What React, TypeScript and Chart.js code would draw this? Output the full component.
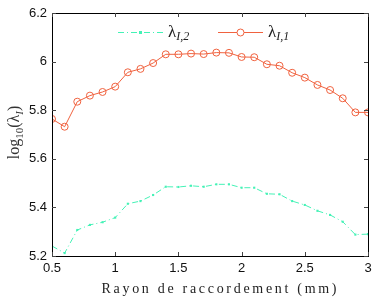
import React, { useEffect, useRef } from "react";
import { Chart, registerables } from "chart.js";

Chart.register(...registerables);

const radii = [0.5, 0.6, 0.7, 0.8, 0.9, 1.0, 1.1, 1.2, 1.3, 1.4, 1.5, 1.6, 1.7, 1.8, 1.9, 2.0, 2.1, 2.2, 2.3, 2.4, 2.5, 2.6, 2.7, 2.8, 2.9, 3.0];
const lambdaI1 = [5.764, 5.732, 5.835, 5.86, 5.875, 5.897, 5.956, 5.97, 5.994, 6.03, 6.03, 6.033, 6.031, 6.037, 6.036, 6.019, 6.018, 5.989, 5.983, 5.954, 5.934, 5.904, 5.883, 5.849, 5.791, 5.791];
const lambdaI2 = [5.241, 5.212, 5.307, 5.328, 5.339, 5.358, 5.415, 5.426, 5.451, 5.485, 5.484, 5.489, 5.485, 5.495, 5.495, 5.481, 5.481, 5.456, 5.454, 5.426, 5.41, 5.386, 5.369, 5.341, 5.288, 5.29];
const xTicks = [0.5, 1, 1.5, 2, 2.5, 3];
const yTicks = [5.2, 5.4, 5.6, 5.8, 6, 6.2];
const xTitle = "Rayon de raccordement (mm)";
const legendLabels = [
  { main: "λ", sub: "I,2" },
  { main: "λ", sub: "I,1" },
];

const RED = "#f0623f";
const GREEN = "#44f2b6";
const SERIF = "'Liberation Serif', 'DejaVu Serif', serif";
const SANS = "'Liberation Sans', Arial, sans-serif";

type Seg = { text: string; font: string; dy: number };

function drawSegs(ctx: CanvasRenderingContext2D, segs: Seg[], x: number, y: number, align: "left" | "center") {
  let total = 0;
  const widths = segs.map((s) => {
    ctx.font = s.font;
    const w = ctx.measureText(s.text).width;
    total += w;
    return w;
  });
  let cx = align === "center" ? x - total / 2 : x;
  segs.forEach((s, i) => {
    ctx.font = s.font;
    ctx.fillText(s.text, cx, y + s.dy);
    cx += widths[i];
  });
}

const decorPlugin = {
  id: "decor",
  afterDraw(chart: any) {
    const ctx: CanvasRenderingContext2D = chart.ctx;
    const { left, right, top, bottom } = chart.chartArea;
    const xs = chart.scales.x;
    const ys = chart.scales.y;
    ctx.save();
    // frame
    ctx.strokeStyle = "#000";
    ctx.lineWidth = 1;
    ctx.strokeRect(Math.round(left) + 0.5, Math.round(top) + 0.5, Math.round(right - left), Math.round(bottom - top));
    // inward ticks
    ctx.strokeStyle = "#444";
    const tl = 4;
    ctx.beginPath();
    xTicks.forEach((v) => {
      const px = Math.round(xs.getPixelForValue(v)) + 0.5;
      ctx.moveTo(px, bottom);
      ctx.lineTo(px, bottom - tl);
      ctx.moveTo(px, top);
      ctx.lineTo(px, top + tl);
    });
    yTicks.forEach((v) => {
      const py = Math.round(ys.getPixelForValue(v)) + 0.5;
      ctx.moveTo(left, py);
      ctx.lineTo(left + tl, py);
      ctx.moveTo(right, py);
      ctx.lineTo(right - tl, py);
    });
    ctx.stroke();

    ctx.fillStyle = "#222";
    ctx.textBaseline = "alphabetic";
    // x title
    ctx.font = `14px ${SERIF}`;
    const natural = ctx.measureText(xTitle).width;
    const target = 235;
    const ls = (target - natural) / (xTitle.length - 1);
    (ctx as any).letterSpacing = `${ls}px`;
    ctx.textAlign = "left";
    ctx.fillText(xTitle, 219 - target / 2, 293);
    (ctx as any).letterSpacing = "0px";

    // y title
    ctx.save();
    ctx.translate(19, (top + bottom) / 2 - 2);
    ctx.rotate(-Math.PI / 2);
    ctx.fillStyle = "#333";
    drawSegs(
      ctx,
      [
        { text: "log", font: `16px ${SERIF}`, dy: 0 },
        { text: "10", font: `11px ${SERIF}`, dy: 4 },
        { text: "(λ", font: `16px ${SERIF}`, dy: 0 },
        { text: "I", font: `italic 11px ${SERIF}`, dy: 4 },
        { text: ")", font: `16px ${SERIF}`, dy: 0 },
      ],
      0,
      0,
      "center"
    );
    ctx.restore();

    // legend
    const ly = 32.5;
    ctx.strokeStyle = GREEN;
    ctx.lineWidth = 1;
    ctx.setLineDash([6, 3, 1, 3]);
    ctx.beginPath();
    ctx.moveTo(118, ly);
    ctx.lineTo(163, ly);
    ctx.stroke();
    ctx.setLineDash([]);
    ctx.fillStyle = GREEN;
    ctx.fillRect(139, ly - 1.5, 3, 3);
    ctx.strokeStyle = RED;
    ctx.beginPath();
    ctx.moveTo(218, ly);
    ctx.lineTo(263, ly);
    ctx.stroke();
    ctx.fillStyle = "#fff";
    ctx.beginPath();
    ctx.arc(240.5, ly, 3.5, 0, Math.PI * 2);
    ctx.fill();
    ctx.stroke();

    ctx.fillStyle = "#222";
    const lx = [168, 268];
    legendLabels.forEach((l, i) => {
      drawSegs(
        ctx,
        [
          { text: l.main, font: `17px ${SERIF}`, dy: 0 },
          { text: l.sub, font: `italic 12px ${SERIF}`, dy: 3 },
        ],
        lx[i],
        37,
        "left"
      );
    });
    ctx.restore();
  },
};

export default function App() {
  const ref = useRef<HTMLCanvasElement>(null);
  useEffect(() => {
    document.body.style.margin = "0";
    const canvas = ref.current!;
    const chart = new Chart(canvas, {
      type: "line",
      data: {
        labels: radii,
        datasets: [
          {
            label: "λI,2",
            data: radii.map((x, i) => ({ x, y: lambdaI2[i] })),
            borderColor: GREEN,
            backgroundColor: GREEN,
            borderWidth: 1,
            borderDash: [6, 3, 1, 3],
            pointRadius: 1.5,
            pointStyle: "rect",
            pointBorderWidth: 0,
            pointBackgroundColor: GREEN,
            tension: 0,
          },
          {
            label: "λI,1",
            data: radii.map((x, i) => ({ x, y: lambdaI1[i] })),
            borderColor: RED,
            backgroundColor: "rgba(0,0,0,0)",
            borderWidth: 1,
            pointRadius: 3.5,
            pointBorderWidth: 1,
            pointBorderColor: RED,
            pointBackgroundColor: "rgba(0,0,0,0)",
            tension: 0,
          },
        ],
      },
      options: {
        animation: false,
        responsive: false,
        maintainAspectRatio: false,
        layout: { padding: { top: 13, right: 14, left: 0, bottom: 0 } },
        plugins: { legend: { display: false }, tooltip: { enabled: false }, title: { display: false } },
        scales: {
          x: {
            type: "linear",
            min: 0.5,
            max: 3,
            afterFit: (s: any) => {
              s.height = 46;
            },
            afterBuildTicks: (s: any) => {
              s.ticks = xTicks.map((v) => ({ value: v }));
            },
            grid: { display: false, drawTicks: false },
            border: { display: false },
            ticks: {
              padding: 5,
              color: "#111",
              font: { family: SANS, size: 13 },
              maxRotation: 0,
              autoSkip: false,
              callback: (v: any) => String(Number(Number(v).toFixed(1))),
            },
          },
          y: {
            type: "linear",
            min: 5.2,
            max: 6.2,
            afterFit: (s: any) => {
              s.width = 52;
            },
            afterBuildTicks: (s: any) => {
              s.ticks = yTicks.map((v) => ({ value: v }));
            },
            grid: { display: false, drawTicks: false },
            border: { display: false },
            ticks: {
              padding: 5,
              color: "#111",
              font: { family: SANS, size: 13 },
              autoSkip: false,
              callback: (v: any) => String(Number(Number(v).toFixed(1))),
            },
          },
        },
      },
      plugins: [decorPlugin],
    } as any);
    return () => chart.destroy();
  }, []);
  return <canvas ref={ref} width={382} height={302} style={{ display: "block", width: 382, height: 302 }} />;
}
